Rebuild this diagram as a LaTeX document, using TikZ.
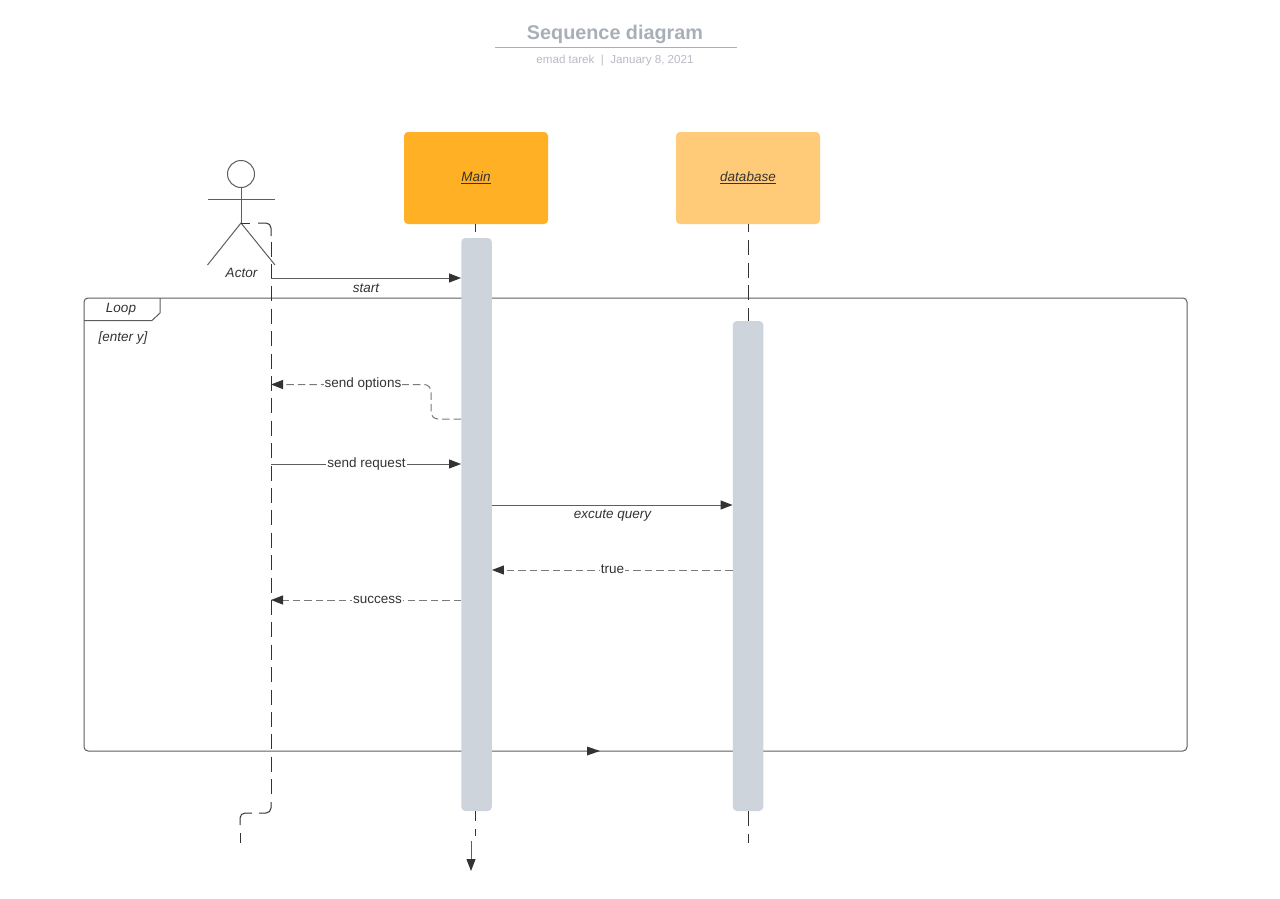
\documentclass[tikz,border=0pt]{standalone}
\usepackage{fontspec}
\setmainfont{Liberation Sans}
\usetikzlibrary{arrows.meta,positioning,calc}
\definecolor{linegray}{HTML}{5E5E5E}
\definecolor{retgray}{HTML}{7A7A7A}
\definecolor{inkgray}{HTML}{333333}
\definecolor{barfill}{HTML}{CED4DC}
\definecolor{mainfill}{HTML}{FFB024}
\definecolor{dbfill}{HTML}{FFCB78}
\definecolor{titlegray}{HTML}{A9AFB8}
\definecolor{subgray}{HTML}{B8BCC3}
\tikzset{
  wire/.style={draw=linegray,line width=1pt},
  lifeseg/.style={draw=inkgray,line width=1pt},
  lifedash/.style={lifeseg,dash pattern=on 15pt off 7.4pt},
  msg/.style={wire,-{Triangle[length=12pt,width=9pt,color=inkgray]}},
  retmsg/.style={draw=retgray,line width=1pt,dash pattern=on 7.5pt off 4pt,-{Triangle[length=12pt,width=9pt,color=inkgray]}},
  headbox/.style={rounded corners=4pt,minimum width=144pt,minimum height=92pt,inner sep=0pt,text=inkgray,font=\fontsize{13.5}{15}\selectfont\itshape},
  activation/.style={fill=barfill,draw=none,rounded corners=4pt,minimum width=30.5pt,inner sep=0pt},
  lbl/.style={font=\fontsize{13.5}{15}\selectfont,text=inkgray,inner sep=1pt},
  ilbl/.style={font=\fontsize{13.5}{15}\selectfont\itshape,text=inkgray,inner sep=1pt},
  whitelbl/.style={lbl,fill=white}
}
\begin{document}
\begin{tikzpicture}[x=1pt,y=-1pt]
\useasboundingbox (0,0) rectangle (1280,899);
\fill[white] (0,0) rectangle (1280,899);

% title
\node[font=\fontsize{19.8}{24}\selectfont\bfseries,text=titlegray,inner sep=0pt] (title) at (615,34.5) {Sequence diagram};
\coordinate (ruleL) at (495,47.5);
\coordinate (ruleR) at (737,47.5);
\draw[draw=titlegray,line width=1.2pt] (ruleL) -- (ruleR);
\node[font=\fontsize{11.6}{14}\selectfont,text=subgray,inner sep=0pt] (subtitle) at (615,60.5) {emad tarek\ \ |\ \ January 8, 2021};

% head boxes
\node[headbox,fill=mainfill] (mainhead) at (476,178) {\raisebox{-1.5pt}{\underline{Main}}};
\node[headbox,fill=dbfill] (dbhead) at (748,178) {\raisebox{-1.5pt}{\underline{database}}};

% frame
\node[draw=linegray,line width=1pt,rounded corners=4pt,minimum width=1103pt,minimum height=453pt,inner sep=0pt] (loopframe) at (635.5,524.5) {};
\coordinate (tabA) at (84,320.5);
\coordinate (tabB) at (152,320.5);
\coordinate (tabC) at (160,313);
\coordinate (tabD) at (160,298);
\draw[wire] (tabA) -- (tabB) -- (tabC) -- (tabD);
\node[ilbl] (looplbl) at (121,309) {Loop};
\node[ilbl] (guard) at (123,338) {[enter y]};

% lifelines, upper parts
\coordinate (mainTop) at (475.5,224);
\coordinate (dbTop) at (748,224);
\draw[lifeseg,dash pattern=on 8pt off 30pt] (mainTop) -- (mainTop |- 0,238);
\draw[lifeseg,dash pattern=on 15pt off 7.8pt,dash phase=7pt] (dbTop) -- (dbTop |- 0,321);

% activation bars
\node[activation,minimum height=573pt] (mainbar) at (476.5,524.5) {};
\node[activation,minimum height=490pt] (dbbar) at (748,566) {};

% lifelines, lower parts
\coordinate (mainBot) at (475.5,836);
\coordinate (dbBot) at (748,843);
\draw[lifeseg,dash pattern=on 10pt off 8pt] (mainBot |- mainbar.south) -- (mainBot);
\draw[lifeseg,dash pattern=on 15pt off 7.8pt] (dbBot |- dbbar.south) -- (dbBot);

% frame bottom arrow
\coordinate (loopA) at (587,751);
\coordinate (loopB) at (600,751);
\fill[inkgray] (loopA) ++(0,-4.5) -- (loopB) -- ($(loopA)+(0,4.5)$) -- cycle;

% actor
\node[circle,draw=linegray,line width=1pt,minimum size=27pt,inner sep=0pt] (head) at (241,174) {};
\coordinate (waist) at (241,223);
\coordinate (armL) at (207.5,199.5);
\coordinate (armR) at (275,199.5);
\coordinate (footL) at (207.5,265);
\coordinate (footR) at (275,265);
\draw[wire] (head.south) -- (waist);
\draw[wire] (armL) -- (armR);
\draw[wire] (footL) -- (waist) -- (footR);
\node[ilbl] (actorlbl) at (241.5,272.5) {Actor};

% actor lifeline
\coordinate (alStart) at (241,223);
\coordinate (alA) at (250,223);
\coordinate (alB) at (258,223);
\coordinate (alCorner) at (271,223);
\coordinate (alC) at (271,236);
\coordinate (alD) at (271,241.5);
\coordinate (alE) at (271,794);
\coordinate (alF) at (271,802);
\coordinate (alCornerB) at (271,813);
\coordinate (alG) at (259,813);
\coordinate (alH) at (252,813);
\coordinate (alCornerC) at (240,813);
\coordinate (alI) at (240,825);
\coordinate (alJ) at (240,833);
\coordinate (alFoot) at (240,843);
\draw[lifeseg] (alStart) -- (alA);
\draw[lifeseg,rounded corners=5pt] (alB) -- (alCorner) -- (alC);
\draw[lifedash] (alD) -- (alE);
\draw[lifeseg,rounded corners=5pt] (alF) -- (alCornerB) -- (alG);
\draw[lifeseg,rounded corners=5pt] (alH) -- (alCornerC) -- (alI);
\draw[lifeseg] (alJ) -- (alFoot);

% messages
\coordinate (aStart) at (271,278);
\draw[msg] (aStart) -- (aStart -| mainbar.west);
\node[ilbl] (startlbl) at (366,288.5) {start};

\coordinate (optEnd) at (271,384.5);
\coordinate (optBendX) at (431,384.5);
\coordinate (optBot) at (431,419);
\draw[retmsg,rounded corners=7pt] (mainbar.west |- optBot) -- (optBot) -- (optBendX) -- (optEnd);
\node[whitelbl] (optlbl) at (363,384.5) {send options};

\coordinate (reqStart) at (271,464);
\draw[msg] (reqStart) -- (reqStart -| mainbar.west);
\node[whitelbl] (reqlbl) at (366.5,464) {send request};

\coordinate (qy) at (0,505);
\draw[msg] (mainbar.east |- qy) -- (dbbar.west |- qy);
\node[ilbl] (querylbl) at (612.5,515.5) {excute query};

\coordinate (ty) at (0,570);
\draw[retmsg] (dbbar.west |- ty) -- (mainbar.east |- ty);
\node[whitelbl] (truelbl) at (612.5,569.5) {true};

\coordinate (sEnd) at (271,600);
\draw[retmsg] (mainbar.west |- sEnd) -- (sEnd);
\node[whitelbl] (successlbl) at (377.5,599.5) {success};

% bottom arrow
\coordinate (dropA) at (471,841);
\coordinate (dropB) at (471,871);
\draw[msg] (dropA) -- (dropB);
\end{tikzpicture}
\end{document}
